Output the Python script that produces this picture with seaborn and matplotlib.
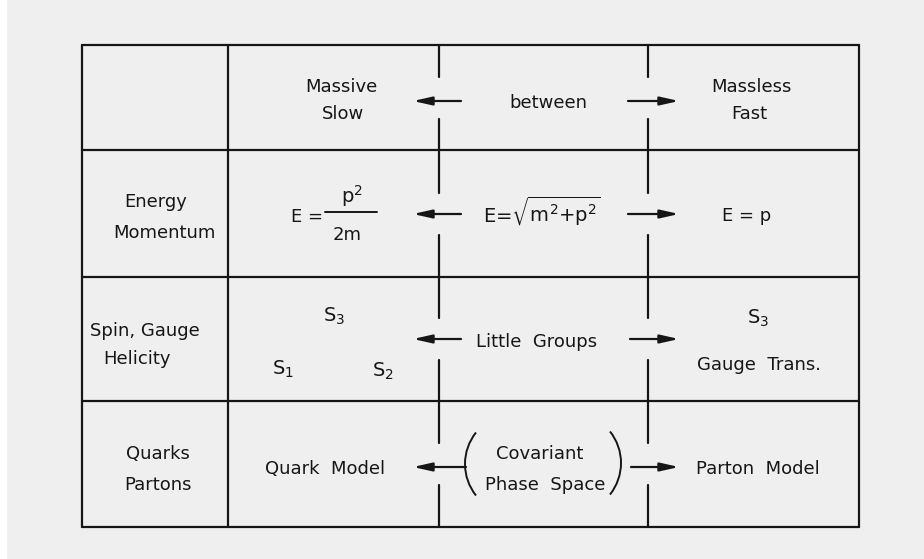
import matplotlib
matplotlib.use("Agg")
import matplotlib.pyplot as plt
import seaborn as sns
import pandas as pd
from matplotlib.patches import Arc

# ---------------- content ----------------
row_headers = [["", ""], ["Energy", "Momentum"], ["Spin, Gauge", "Helicity"], ["Quarks", "Partons"]]
left_cells = [["Massive", "Slow"], None, None, ["Quark  Model"]]
middle_cells = [["between"], None, ["Little  Groups"], ["Covariant", "Phase  Space"]]
right_cells = [["Massless", "Fast"], ["E = p"], [r"S$_3$", "Gauge  Trans."], ["Parton  Model"]]
formula_relativistic = r"E=$\sqrt{m^2{+}p^2}$"
formula_slow = ("E =", r"p$^2$", "2m")
spin_labels = [r"S$_3$", r"S$_1$", r"S$_2$"]

# ---------------- layout (pixels) ----------------
W, H = 924, 559
row_edges = [45, 150, 277, 401, 527]
col_edges = [82, 228, 859]
divider_x = [439, 648]
gap_half = 21
arrow_y = [101, 214, 339, 467]
INK = "#161616"
FS = 13

sns.set_theme(style="white")
plt.rcParams["font.family"] = ["DejaVu Sans"]
plt.rcParams["mathtext.fontset"] = "dejavusans"
plt.rcParams["mathtext.default"] = "regular"

fig = plt.figure(figsize=(W / 100, H / 100), dpi=100)
fig.patch.set_facecolor("#efefef")
ax = fig.add_axes([0, 0, 1, 1])
ax.set_facecolor("#efefef")
ax.set_xlim(0, W)
ax.set_ylim(H, 0)
ax.axvspan(0, 7, color="white", lw=0)

# ---------------- rules via seaborn ----------------
segs = []
sid = 0
def seg(x0, y0, x1, y1):
    global sid
    segs.append(dict(seg=sid, x=x0, y=y0, o=0))
    segs.append(dict(seg=sid, x=x1, y=y1, o=1))
    sid += 1

for y in row_edges:
    seg(col_edges[0], y, col_edges[-1], y)
for x in col_edges:
    seg(x, row_edges[0], x, row_edges[-1])
for x in divider_x:
    for top, bot in zip(row_edges[:-1], row_edges[1:]):
        c = (top + bot) / 2
        seg(x, top, x, c - gap_half)
        seg(x, c + gap_half, x, bot)

df = pd.DataFrame(segs)
sns.lineplot(data=df, x="x", y="y", units="seg", estimator=None, sort=False,
             color=INK, lw=1.6, ax=ax, legend=False)
ax.set_xlim(0, W)
ax.set_ylim(H, 0)
ax.axis("off")

# ---------------- text helpers ----------------
def put(x, y_base, s, ha="center", fs=FS):
    ax.text(x, y_base, s, ha=ha, va="baseline", fontsize=fs, color=INK)

# Row headers
hdr_pos = [None, [(156, 207), (164, 238)], [(145, 336), (137, 364)], [(158, 459), (158, 490)]]
for lines, pos in zip(row_headers, hdr_pos):
    if pos is None:
        continue
    for s, (x, y) in zip(lines, pos):
        put(x, y, s)

# Row 1
put(341, 92, left_cells[0][0]); put(343, 119, left_cells[0][1])
put(548, 108, middle_cells[0][0])
put(751, 92, right_cells[0][0]); put(749, 119, right_cells[0][1])

# Row 2
put(291, 222, formula_slow[0], ha="left")
put(352, 203, formula_slow[1], fs=14)
ax.plot([325, 377], [212, 212], color=INK, lw=1.4)
put(347, 240, formula_slow[2])
put(542, 222, formula_relativistic, fs=14)
put(747, 221, right_cells[1][0])

# Row 3
put(334, 322, spin_labels[0], fs=14); put(283, 375, spin_labels[1], fs=14); put(383, 377, spin_labels[2], fs=14)
put(537, 347, middle_cells[2][0])
put(758, 324, right_cells[2][0], fs=14); put(759, 370, right_cells[2][1])

# Row 4
put(325, 474, left_cells[3][0])
put(540, 459, middle_cells[3][0]); put(545, 490, middle_cells[3][1])
put(758, 474, right_cells[3][0])

# Big parentheses
r = 50.6
ax.add_patch(Arc((465 + r, 464), 2 * r, 2 * r, theta1=180 - 38.5, theta2=180 + 38.5, color=INK, lw=1.4))
ax.add_patch(Arc((621 - r, 463), 2 * r, 2 * r, theta1=-38.5, theta2=38.5, color=INK, lw=1.4))

# Arrows
aprops = dict(arrowstyle="-|>,head_length=0.8,head_width=0.18", lw=1.6, color=INK,
              mutation_scale=14, shrinkA=0, shrinkB=0)
left_tail = [461, 461, 461, 466]
right_tail = [628, 628, 630, 631]
for y, lt, rt in zip(arrow_y, left_tail, right_tail):
    ax.annotate("", xy=(413, y), xytext=(lt, y), arrowprops=aprops)
    ax.annotate("", xy=(679, y), xytext=(rt, y), arrowprops=aprops)

fig.savefig("out.png", dpi=100, facecolor=fig.get_facecolor())
